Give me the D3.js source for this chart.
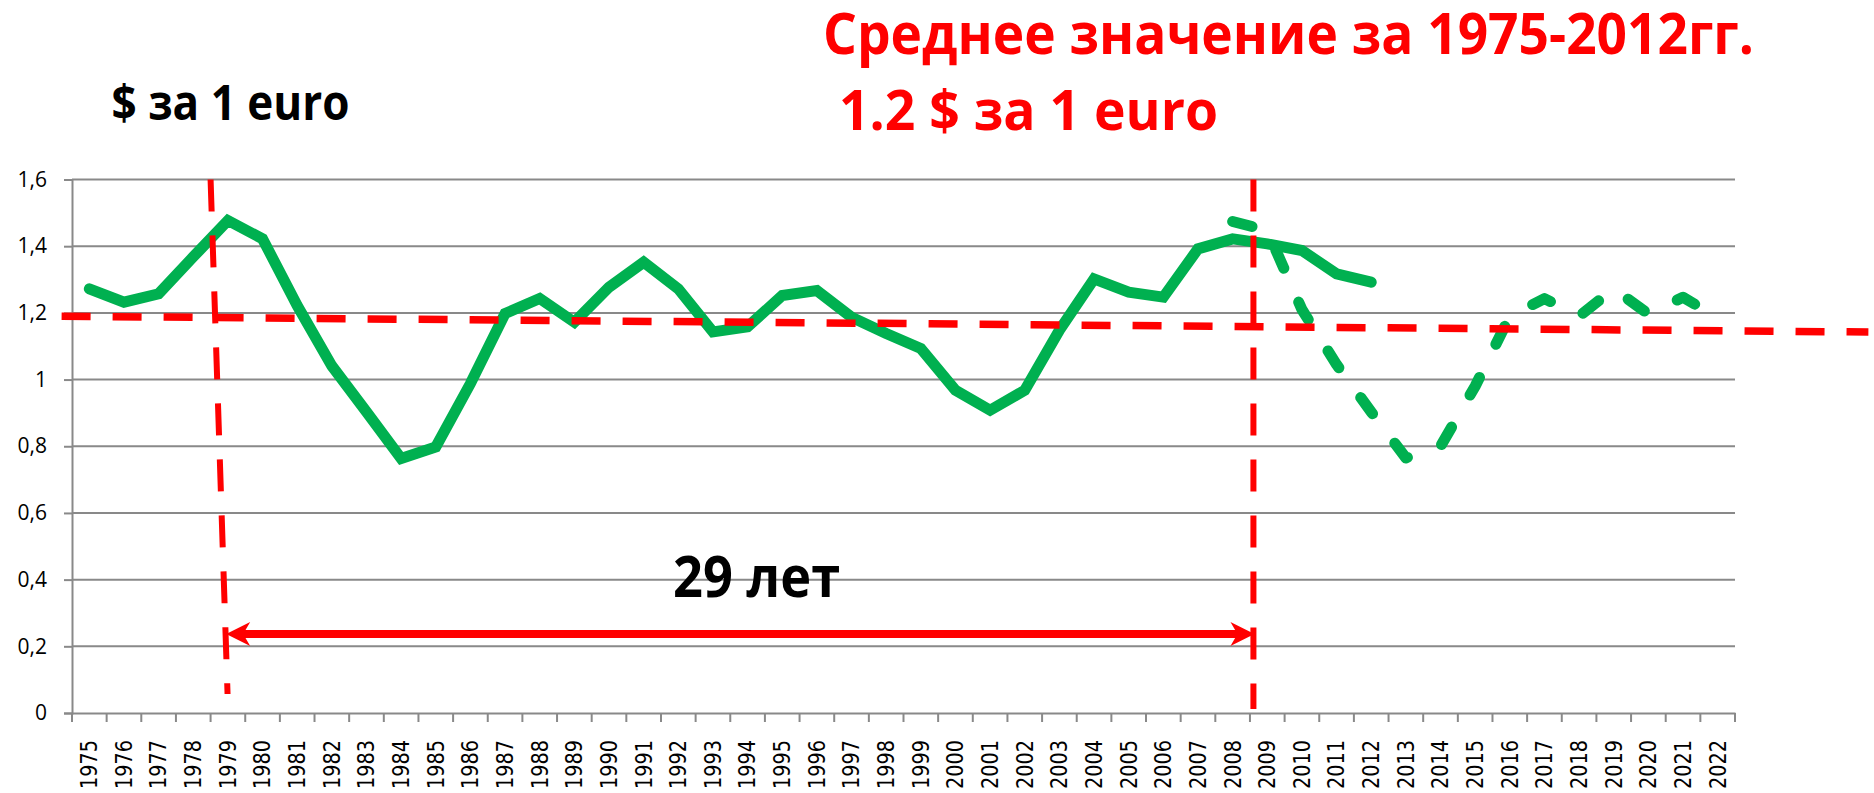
<!DOCTYPE html>
<html>
<head>
<meta charset="utf-8">
<script src="https://cdn.jsdelivr.net/npm/d3@7"></script>
<style>
  body { margin: 0; background: #fff; overflow: hidden; }
</style>
</head>
<body>
<div id="chart"></div>
<script>
// categories (years on the x axis)
const years = ["1975","1976","1977","1978","1979","1980","1981","1982","1983","1984",
  "1985","1986","1987","1988","1989","1990","1991","1992","1993","1994","1995","1996",
  "1997","1998","1999","2000","2001","2002","2003","2004","2005","2006","2007","2008",
  "2009","2010","2011","2012","2013","2014","2015","2016","2017","2018","2019","2020",
  "2021","2022"];

// actual $ per 1 euro, 1975-2012 (solid line)
const actualYears = years.slice(0, 38);
const actualValues = [1.272, 1.232, 1.257, 1.368, 1.477, 1.422, 1.222, 1.041, 0.903, 0.763,
  0.798, 0.988, 1.198, 1.243, 1.172, 1.277, 1.352, 1.272, 1.143, 1.158, 1.252, 1.267,
  1.187, 1.138, 1.093, 0.968, 0.908, 0.968, 1.148, 1.302, 1.262, 1.247, 1.392, 1.422,
  1.407, 1.387, 1.317, 1.292];

// repeated-cycle projection, 2008-2022 (dashed line)
const forecastYears = years.slice(33);
const forecastValues = [1.474, 1.447, 1.21, 1.045, 0.903, 0.765, 0.80, 0.98, 1.19, 1.243,
  1.19, 1.272, 1.197, 1.247, 1.185];

const yTicks = [0, 0.2, 0.4, 0.6, 0.8, 1, 1.2, 1.4, 1.6];
const yTickLabels = ["0", "0,2", "0,4", "0,6", "0,8", "1", "1,2", "1,4", "1,6"];

// hand-drawn annotations (position in years, value in $)
const meanLine = [{pos: 1974.7, value: 1.19}, {pos: 2026.85, value: 1.1425}];
const startLine = [{pos: 1979.0, value: 1.6}, {pos: 1979.49, value: 0.057}];
const endLine = [{pos: 2009.1, value: 1.6}, {pos: 2009.1, value: 0.012}];
const spanArrow = [{pos: 1979.45, value: 0.237}, {pos: 2009.13, value: 0.237}];
const spanLabel = {pos: 1992.35, value: 0.348, text: "29 лет"};

const W = 1874, H = 793;
const margin = {top: 179.5, right: 139, bottom: 80, left: 72};
const green = "#00B050", red = "#FF0000", grey = "#898989";

const svg = d3.select("#chart").append("svg")
    .attr("width", W)
    .attr("height", H);

const x = d3.scaleBand()
    .domain(years)
    .range([margin.left, W - margin.right])
    .padding(0);

// continuous version of the same axis (year boundaries)
const xPos = d3.scaleLinear()
    .domain([1975, 2023])
    .range([margin.left, W - margin.right]);

const y = d3.scaleLinear()
    .domain([0, 1.6])
    .range([H - margin.bottom, margin.top]);

const cx = d => x(d) + x.bandwidth() / 2;

// gridlines
svg.append("g")
    .selectAll("line")
    .data(yTicks.slice(1))
    .enter().append("line")
    .attr("x1", margin.left)
    .attr("x2", W - margin.right)
    .attr("y1", d => y(d))
    .attr("y2", d => y(d))
    .attr("stroke", grey)
    .attr("stroke-width", 2);

// y axis
const yAxis = svg.append("g")
    .attr("transform", `translate(${margin.left},0)`)
    .call(d3.axisLeft(y)
        .tickValues(yTicks)
        .tickSize(8)
        .tickPadding(17)
        .tickFormat((d, i) => yTickLabels[i]));
yAxis.select(".domain").attr("stroke", grey).attr("stroke-width", 2);
yAxis.selectAll(".tick line").attr("stroke", grey).attr("stroke-width", 2);
yAxis.selectAll("text")
    .attr("fill", "#000")
    .style("font-family", "'Open Sans', sans-serif")
    .style("font-size", "21px");

// x axis
const xAxis = svg.append("g")
    .attr("transform", `translate(0,${H - margin.bottom})`)
    .call(d3.axisBottom(x).tickSize(0));
xAxis.select(".domain").attr("stroke", grey).attr("stroke-width", 2);
xAxis.selectAll("text")
    .attr("y", 0)
    .attr("x", 0)
    .attr("dy", "0.35em")
    .attr("transform", "translate(0,27) rotate(-90)")
    .attr("textLength", 49)
    .attr("lengthAdjust", "spacingAndGlyphs")
    .style("text-anchor", "end")
    .attr("fill", "#000")
    .style("font-family", "'DejaVu Sans', sans-serif")
    .style("font-size", "22.5px");

// tick marks on category boundaries
svg.append("g")
    .selectAll("line")
    .data(years.map(x).concat([W - margin.right]))
    .enter().append("line")
    .attr("x1", d => d)
    .attr("x2", d => d)
    .attr("y1", H - margin.bottom)
    .attr("y2", H - margin.bottom + 9)
    .attr("stroke", grey)
    .attr("stroke-width", 2);

// data lines
const line = d3.line()
    .x(d => cx(d.year))
    .y(d => y(d.value));

svg.append("path")
    .datum(forecastYears.map((yr, i) => ({year: yr, value: forecastValues[i]})))
    .attr("d", line)
    .attr("fill", "none")
    .attr("stroke", green)
    .attr("stroke-width", 11)
    .attr("stroke-linecap", "round")
    .attr("stroke-linejoin", "round")
    .attr("stroke-dasharray", "20,37");

svg.append("path")
    .datum(actualYears.map((yr, i) => ({year: yr, value: actualValues[i]})))
    .attr("d", line)
    .attr("fill", "none")
    .attr("stroke", green)
    .attr("stroke-width", 11)
    .attr("stroke-linecap", "round")
    .attr("stroke-linejoin", "miter");

// annotations
const annoLine = d3.line()
    .x(d => xPos(d.pos))
    .y(d => y(d.value));

svg.append("path")
    .datum(meanLine)
    .attr("d", annoLine)
    .attr("stroke", red)
    .attr("stroke-width", 7.5)
    .attr("stroke-dasharray", "29,22")
    .attr("fill", "none");

[startLine, endLine].forEach(seg => {
    svg.append("path")
        .datum(seg)
        .attr("d", annoLine)
        .attr("stroke", red)
        .attr("stroke-width", 6)
        .attr("stroke-dasharray", "32,24")
        .attr("fill", "none");
});

// double-headed arrow
const ax0 = xPos(spanArrow[0].pos), ax1 = xPos(spanArrow[1].pos), ay = y(spanArrow[0].value);
svg.append("line")
    .attr("x1", ax0 + 16)
    .attr("x2", ax1 - 16)
    .attr("y1", ay)
    .attr("y2", ay)
    .attr("stroke", red)
    .attr("stroke-width", 8);
[[ax0, -1], [ax1, 1]].forEach(([tx, dir]) => {
    svg.append("path")
        .attr("d", `M${tx},${ay} L${tx - dir * 24},${ay - 12} L${tx - dir * 17},${ay} L${tx - dir * 24},${ay + 12} Z`)
        .attr("fill", red);
});

svg.append("text")
    .attr("x", xPos(spanLabel.pos))
    .attr("y", y(spanLabel.value))
    .attr("textLength", 167)
    .attr("lengthAdjust", "spacingAndGlyphs")
    .style("font-family", "'Open Sans', sans-serif")
    .style("font-weight", "bold")
    .style("font-size", "57px")
    .attr("fill", "#000")
    .text(spanLabel.text);

// titles
svg.append("text")
    .attr("x", 111.5)
    .attr("y", 120)
    .attr("textLength", 238)
    .attr("lengthAdjust", "spacingAndGlyphs")
    .style("font-family", "'Open Sans', sans-serif")
    .style("font-weight", "bold")
    .style("font-size", "49px")
    .attr("fill", "#000")
    .text("$ за 1 euro");

svg.append("text")
    .attr("x", 823)
    .attr("y", 53.5)
    .attr("textLength", 931)
    .attr("lengthAdjust", "spacingAndGlyphs")
    .style("font-family", "'Open Sans', sans-serif")
    .style("font-weight", "bold")
    .style("font-size", "57px")
    .attr("fill", red)
    .text("Среднее значение за 1975-2012гг.");

svg.append("text")
    .attr("x", 839)
    .attr("y", 129.5)
    .attr("textLength", 379)
    .attr("lengthAdjust", "spacingAndGlyphs")
    .style("font-family", "'Open Sans', sans-serif")
    .style("font-weight", "bold")
    .style("font-size", "55px")
    .attr("fill", red)
    .text("1.2 $ за 1 euro");
</script>
</body>
</html>
